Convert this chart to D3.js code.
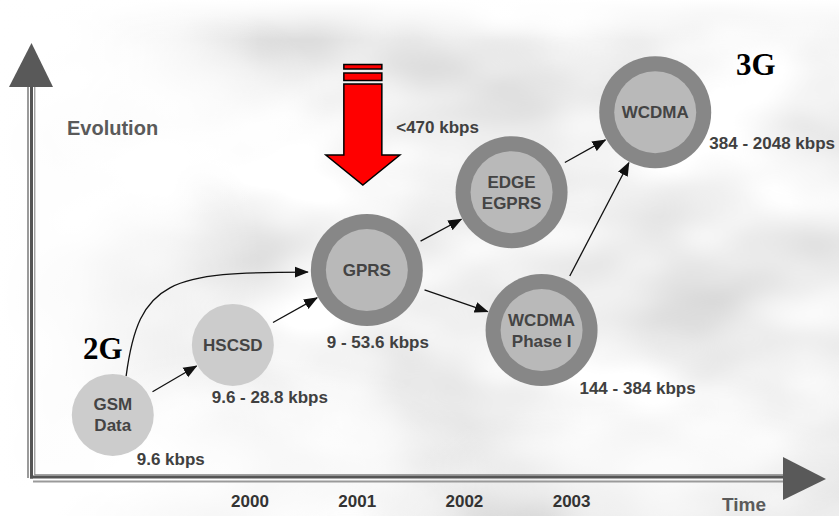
<!DOCTYPE html>
<html>
<head>
<meta charset="utf-8">
<script src="https://cdn.jsdelivr.net/npm/d3@7"></script>
<style>
body { margin: 0; background: #fff; }
svg { display: block; font-family: Arial, "Liberation Sans", sans-serif; }
</style>
</head>
<body>
<div id="chart"></div>
<script>
// data
const years = [2000, 2001, 2002, 2003];
const techLines = [["GSM", "Data"], ["HSCSD"], ["GPRS"], ["EDGE", "EGPRS"], ["WCDMA", "Phase I"], ["WCDMA"]];
const techTime = [1998.72, 1999.84, 2001.09, 2002.44, 2002.72, 2003.78];
const techLevel = [14.5, 30.6, 47.8, 65.7, 34.0, 84.1];
const techRate = ["9.6 kbps", "9.6 - 28.8 kbps", "9 - 53.6 kbps", "<470 kbps", "144 - 384 kbps", "384 - 2048 kbps"];
const techSwitching = ["circuit", "circuit", "packet", "packet", "packet", "packet"];
const linkSource = [0, 0, 1, 2, 2, 3, 4];
const linkTarget = [1, 2, 2, 3, 4, 5, 5];
const generations = ["2G", "3G"];

const width = 839, height = 516;

const x = d3.scaleLinear().domain([2000, 2003]).range([250, 571.6]);
const y = d3.scaleLinear().domain([0, 100]).range([478, 43]);

const nodes = techLines.map((lines, i) => ({
    id: i,
    lines: lines,
    rate: techRate[i],
    packet: techSwitching[i] === "packet",
    x: x(techTime[i]),
    y: y(techLevel[i])
}));
nodes.forEach(d => { d.r = d.packet ? 56 : 41; });

const links = linkSource.map((s, i) => ({source: nodes[s], target: nodes[linkTarget[i]]}));
// a link that bypasses an intermediate step is drawn as a curve
links.forEach(l => {
    l.curved = links.some(a => a.source === l.source &&
        links.some(b => b.source === a.target && b.target === l.target));
});

const svg = d3.select('#chart')
    .append('svg')
    .attr('width', width)
    .attr('height', height);

const defs = svg.append('defs');

// cloudy background
const clouds = defs.append('filter')
    .attr('id', 'clouds')
    .attr('filterUnits', 'userSpaceOnUse')
    .attr('x', 0).attr('y', 0).attr('width', width).attr('height', height);
clouds.append('feTurbulence')
    .attr('type', 'fractalNoise')
    .attr('baseFrequency', '0.005 0.009')
    .attr('numOctaves', 3)
    .attr('seed', 11);
clouds.append('feGaussianBlur').attr('stdDeviation', 3);
clouds.append('feColorMatrix')
    .attr('type', 'matrix')
    .attr('values', '0.55 0 0 0 0.6  0.55 0 0 0 0.6  0.55 0 0 0 0.6  0 0 0 0 1');

const fadeLeft = defs.append('linearGradient').attr('id', 'fadeLeft')
    .attr('x1', 0).attr('x2', 1).attr('y1', 0).attr('y2', 0);
fadeLeft.append('stop').attr('offset', 0).attr('stop-color', '#fff').attr('stop-opacity', 1);
fadeLeft.append('stop').attr('offset', 0.3).attr('stop-color', '#fff').attr('stop-opacity', 0.85);
fadeLeft.append('stop').attr('offset', 1).attr('stop-color', '#fff').attr('stop-opacity', 0);

const fadeTop = defs.append('linearGradient').attr('id', 'fadeTop')
    .attr('x1', 0).attr('x2', 0).attr('y1', 0).attr('y2', 1);
fadeTop.append('stop').attr('offset', 0).attr('stop-color', '#fff').attr('stop-opacity', 1);
fadeTop.append('stop').attr('offset', 1).attr('stop-color', '#fff').attr('stop-opacity', 0);

const fadeSpot = defs.append('radialGradient').attr('id', 'fadeSpot');
fadeSpot.append('stop').attr('offset', 0).attr('stop-color', '#fff').attr('stop-opacity', 0.85);
fadeSpot.append('stop').attr('offset', 0.6).attr('stop-color', '#fff').attr('stop-opacity', 0.45);
fadeSpot.append('stop').attr('offset', 1).attr('stop-color', '#fff').attr('stop-opacity', 0);

svg.append('rect').attr('width', width).attr('height', height).attr('fill', '#fff');
svg.append('rect').attr('width', width).attr('height', height).attr('filter', 'url(#clouds)');
svg.append('rect').attr('width', 260).attr('height', height).attr('fill', 'url(#fadeLeft)');
svg.append('rect').attr('width', width).attr('height', 40).attr('fill', 'url(#fadeTop)');
svg.append('ellipse').attr('cx', 230).attr('cy', 470).attr('rx', 260).attr('ry', 120).attr('fill', 'url(#fadeSpot)');
svg.append('ellipse').attr('cx', 640).attr('cy', 470).attr('rx', 220).attr('ry', 70).attr('fill', 'url(#fadeSpot)');
svg.append('ellipse').attr('cx', 170).attr('cy', 110).attr('rx', 160).attr('ry', 110).attr('fill', 'url(#fadeSpot)');

// axes (double line with a shadow)
const axisG = svg.append('g');
const ax0 = 31.5, ay0 = 477;
axisG.append('line').attr('x1', 28).attr('x2', 28).attr('y1', 87).attr('y2', 478)
    .attr('stroke', '#9a9a9a').attr('stroke-width', 2);
axisG.append('line').attr('x1', ax0).attr('x2', ax0).attr('y1', 87).attr('y2', ay0 + 1.5)
    .attr('stroke', '#555').attr('stroke-width', 3);
axisG.append('line').attr('x1', 34.8).attr('x2', 34.8).attr('y1', 87).attr('y2', 475)
    .attr('stroke', '#7a7a7a').attr('stroke-width', 1);
axisG.append('line').attr('x1', 34.8).attr('x2', 790).attr('y1', 474.8).attr('y2', 474.8)
    .attr('stroke', '#7a7a7a').attr('stroke-width', 1);
axisG.append('line').attr('x1', 30).attr('x2', 790).attr('y1', ay0).attr('y2', ay0)
    .attr('stroke', '#555').attr('stroke-width', 3);
axisG.append('line').attr('x1', 33).attr('x2', 790).attr('y1', 481.5).attr('y2', 481.5)
    .attr('stroke', '#9a9a9a').attr('stroke-width', 2);
axisG.append('path').attr('d', 'M31.5,43L53,87L9,87Z').attr('fill', '#595959');
axisG.append('path').attr('d', 'M826,479L783,500L783,457Z').attr('fill', '#595959');

axisG.append('text').attr('x', 67).attr('y', 135)
    .style('font-size', '20px').style('font-weight', 'bold').attr('fill', '#5a5a5a')
    .text('Evolution');
axisG.append('text').attr('x', 722).attr('y', 511)
    .style('font-size', '19px').style('font-weight', 'bold').attr('fill', '#5a5a5a')
    .text('Time');

// year ticks
axisG.selectAll('text.year')
    .data(years)
    .enter().append('text')
    .attr('class', 'year')
    .attr('x', d => x(d))
    .attr('y', 507)
    .attr('text-anchor', 'middle')
    .style('font-size', '17px').style('font-weight', 'bold').attr('fill', '#333')
    .text(d => d);

// generation labels
svg.selectAll('text.gen')
    .data(generations)
    .enter().append('text')
    .attr('class', 'gen')
    .attr('x', (d, i) => i === 0 ? 83 : 736)
    .attr('y', (d, i) => i === 0 ? 359 : 75)
    .style('font-family', '"Liberation Serif", "Times New Roman", serif')
    .style('font-size', '31px').style('font-weight', 'bold').attr('fill', '#000')
    .text(d => d);

// red arrow pointing at GPRS
const gprs = nodes[2];
const rx = gprs.x - 4;
const redG = svg.append('g').attr('fill', '#ff0000').attr('stroke', '#000').attr('stroke-width', 1.5);
redG.append('rect').attr('x', rx - 19).attr('y', 64.5).attr('width', 38).attr('height', 4.5);
redG.append('rect').attr('x', rx - 19).attr('y', 73).attr('width', 38).attr('height', 7.5);
redG.append('path')
    .attr('d', `M${rx - 19},84L${rx + 19},84L${rx + 19},155L${rx + 37},155L${rx},185L${rx - 37},155L${rx - 19},155Z`)
    .attr('stroke-linejoin', 'miter');

// arrow marker
defs.append('marker')
    .attr('id', 'head')
    .attr('viewBox', '0 -6 14 12')
    .attr('refX', 13).attr('refY', 0)
    .attr('markerWidth', 14).attr('markerHeight', 12)
    .attr('markerUnits', 'userSpaceOnUse')
    .attr('orient', 'auto')
    .append('path')
    .attr('d', 'M0,-5.5L14,0L0,5.5Z')
    .attr('fill', '#111');

function linkPath(l) {
    const s = l.source, t = l.target;
    if (l.curved) {
        // leave the source upwards, enter the target from the left
        const a = 19 * Math.PI / 180;
        const p0 = [s.x + s.r * Math.sin(a), s.y - s.r * Math.cos(a)];
        const p3 = [t.x - t.r - 3, t.y + 2];
        const dx = p3[0] - p0[0], dy = p3[1] - p0[1];
        const p = d3.path();
        p.moveTo(p0[0], p0[1]);
        p.bezierCurveTo(p0[0] + 0.07 * dx, p0[1] + 0.93 * dy, p0[0] + 0.24 * dx, p3[1], p3[0], p3[1]);
        return p.toString();
    }
    const dx = t.x - s.x, dy = t.y - s.y;
    const len = Math.sqrt(dx * dx + dy * dy);
    const ux = dx / len, uy = dy / len;
    return `M${s.x + ux * (s.r + 5)},${s.y + uy * (s.r + 5)}L${t.x - ux * (t.r + 1)},${t.y - uy * (t.r + 1)}`;
}

svg.append('g').selectAll('path')
    .data(links)
    .enter().append('path')
    .attr('d', linkPath)
    .attr('fill', 'none')
    .attr('stroke', '#111')
    .attr('stroke-width', 1.3)
    .attr('marker-end', 'url(#head)');

// nodes
const node = svg.append('g').selectAll('g')
    .data(nodes)
    .enter().append('g')
    .attr('transform', d => `translate(${d.x},${d.y})`);

node.filter(d => d.packet).append('circle')
    .attr('r', d => d.r)
    .attr('fill', '#878787');
node.append('circle')
    .attr('r', 41)
    .attr('fill', d => d.packet ? '#b9b9b9' : '#cccccc');

node.each(function(d) {
    const n = d.lines.length;
    d3.select(this).selectAll('text')
        .data(d.lines)
        .enter().append('text')
        .attr('text-anchor', 'middle')
        .attr('y', (t, i) => 6 + (i - (n - 1) / 2) * 21)
        .style('font-size', '17px').style('font-weight', 'bold').attr('fill', '#444')
        .text(t => t);
});

// data rate labels, placed next to each node
const rateOffset = [[58, 50], [37, 58], [11, 78], [-74, -59], [96, 64], [117, 37]];
svg.append('g').selectAll('text')
    .data(nodes)
    .enter().append('text')
    .attr('x', (d, i) => d.x + rateOffset[i][0])
    .attr('y', (d, i) => d.y + rateOffset[i][1])
    .attr('text-anchor', 'middle')
    .style('font-size', '17px').style('font-weight', 'bold').attr('fill', '#404040')
    .text(d => d.rate);
</script>
</body>
</html>
